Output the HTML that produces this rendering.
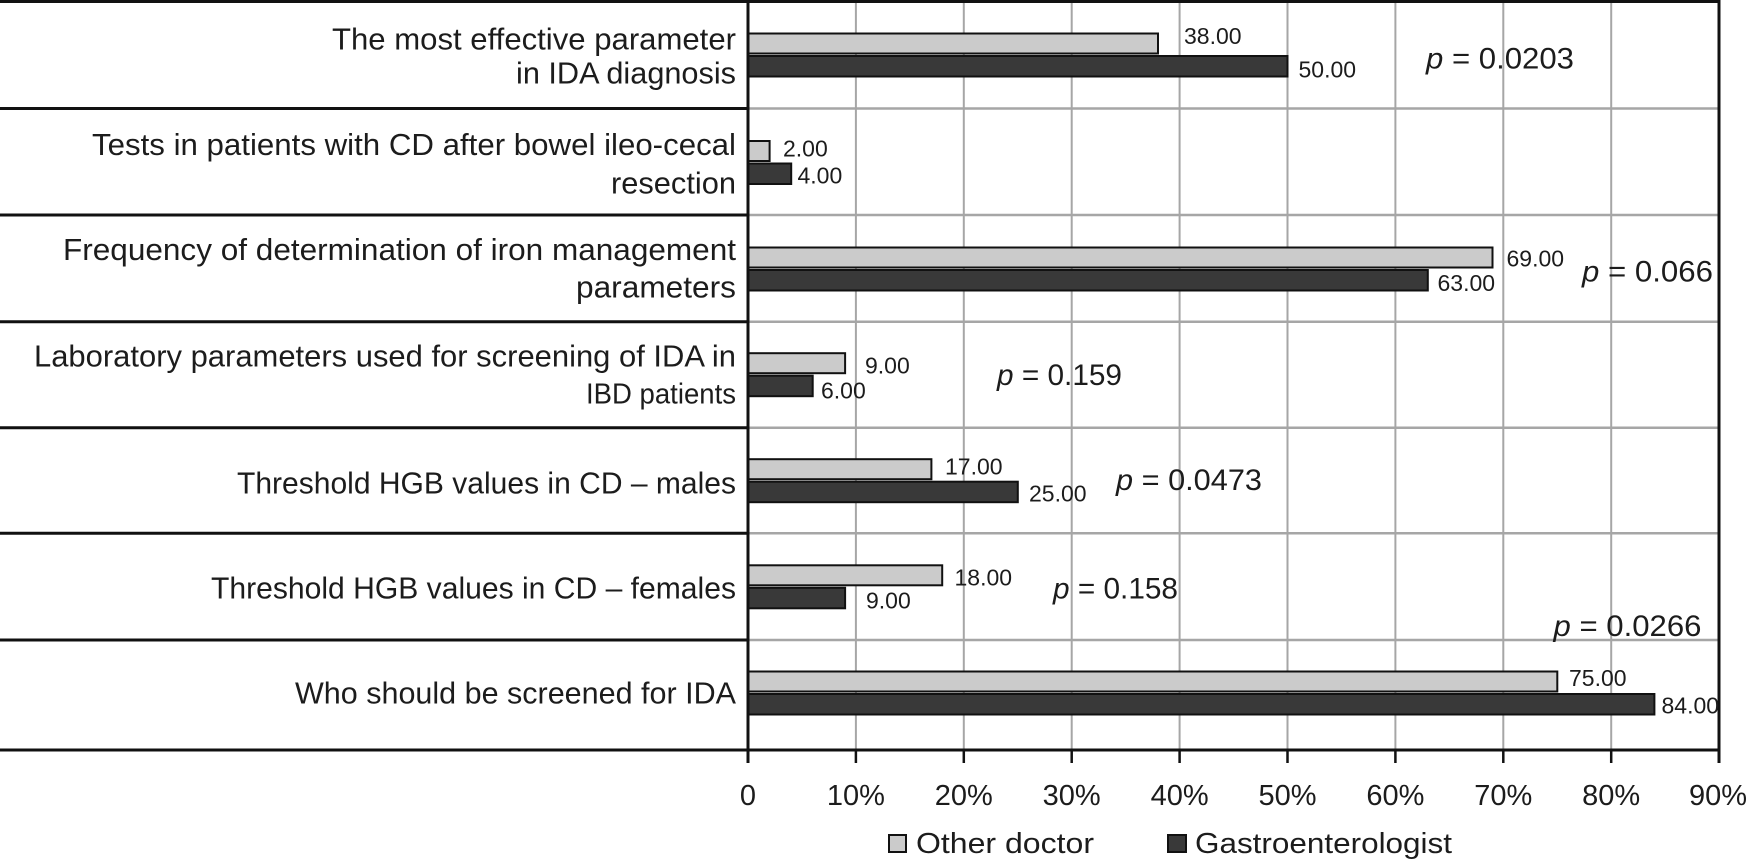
<!DOCTYPE html>
<html>
<head>
<meta charset="utf-8">
<style>
  html, body { margin: 0; padding: 0; background: #ffffff; }
  svg { display: block; }
  text { font-family: "Liberation Sans", "DejaVu Sans", sans-serif; fill: #1c1c1c; }
</style>
</head>
<body>
<svg width="1748" height="863" viewBox="0 0 1748 863" xmlns="http://www.w3.org/2000/svg">
  <rect x="0" y="0" width="1748" height="863" fill="#ffffff"/>

  <!-- vertical gray gridlines -->
  <g stroke="#a6a6a6" stroke-width="2">
    <line x1="855.9" y1="0" x2="855.9" y2="750"/>
    <line x1="963.8" y1="0" x2="963.8" y2="750"/>
    <line x1="1071.7" y1="0" x2="1071.7" y2="750"/>
    <line x1="1179.6" y1="0" x2="1179.6" y2="750"/>
    <line x1="1287.5" y1="0" x2="1287.5" y2="750"/>
    <line x1="1395.4" y1="0" x2="1395.4" y2="750"/>
    <line x1="1503.3" y1="0" x2="1503.3" y2="750"/>
    <line x1="1611.2" y1="0" x2="1611.2" y2="750"/>
  </g>

  <!-- horizontal gray row lines in plot area -->
  <g stroke="#a6a6a6" stroke-width="2.5">
    <line x1="748" y1="108.5" x2="1719" y2="108.5"/>
    <line x1="748" y1="215" x2="1719" y2="215"/>
    <line x1="748" y1="321.7" x2="1719" y2="321.7"/>
    <line x1="748" y1="427.7" x2="1719" y2="427.7"/>
    <line x1="748" y1="533.3" x2="1719" y2="533.3"/>
    <line x1="748" y1="640" x2="1719" y2="640"/>
  </g>

  <!-- black row separators in label area -->
  <g stroke="#111" stroke-width="3">
    <line x1="0" y1="1.5" x2="1719" y2="1.5"/>
    <line x1="0" y1="108.5" x2="748" y2="108.5"/>
    <line x1="0" y1="215" x2="748" y2="215"/>
    <line x1="0" y1="321.7" x2="748" y2="321.7"/>
    <line x1="0" y1="427.7" x2="748" y2="427.7"/>
    <line x1="0" y1="533.3" x2="748" y2="533.3"/>
    <line x1="0" y1="640" x2="748" y2="640"/>
    <line x1="0" y1="750" x2="1719" y2="750"/>
  </g>

  <!-- bars: light = Other doctor, dark = Gastroenterologist -->
  <g stroke="#111" stroke-width="2">
    <rect x="748" y="33.5" width="410" height="20" fill="#cbcbcb"/>
    <rect x="748" y="56" width="539.5" height="20.5" fill="#393939"/>
    <rect x="748" y="141" width="21.6" height="20" fill="#cbcbcb"/>
    <rect x="748" y="163.5" width="43.2" height="20.5" fill="#393939"/>
    <rect x="748" y="247.5" width="744.5" height="20" fill="#cbcbcb"/>
    <rect x="748" y="270" width="679.8" height="20.5" fill="#393939"/>
    <rect x="748" y="353.2" width="97.1" height="20" fill="#cbcbcb"/>
    <rect x="748" y="375.7" width="64.7" height="20.5" fill="#393939"/>
    <rect x="748" y="459.2" width="183.4" height="20" fill="#cbcbcb"/>
    <rect x="748" y="481.7" width="269.8" height="20.5" fill="#393939"/>
    <rect x="748" y="565.3" width="194.2" height="20" fill="#cbcbcb"/>
    <rect x="748" y="587.8" width="97.1" height="20.5" fill="#393939"/>
    <rect x="748" y="671.5" width="809.3" height="20" fill="#cbcbcb"/>
    <rect x="748" y="694" width="906.4" height="20.5" fill="#393939"/>
  </g>

  <!-- axes -->
  <g stroke="#111" stroke-width="3">
    <line x1="748" y1="0" x2="748" y2="763"/>
    <line x1="1719" y1="0" x2="1719" y2="763"/>
  </g>
  <g stroke="#111" stroke-width="2.5">
    <line x1="855.9" y1="750" x2="855.9" y2="763"/>
    <line x1="963.8" y1="750" x2="963.8" y2="763"/>
    <line x1="1071.7" y1="750" x2="1071.7" y2="763"/>
    <line x1="1179.6" y1="750" x2="1179.6" y2="763"/>
    <line x1="1287.5" y1="750" x2="1287.5" y2="763"/>
    <line x1="1395.4" y1="750" x2="1395.4" y2="763"/>
    <line x1="1503.3" y1="750" x2="1503.3" y2="763"/>
    <line x1="1611.2" y1="750" x2="1611.2" y2="763"/>
  </g>

  <!-- category labels -->
  <g font-size="30.5" text-anchor="end">
    <text x="736" y="49.3" textLength="404" lengthAdjust="spacingAndGlyphs">The most effective parameter</text>
    <text x="736" y="83.3" textLength="220" lengthAdjust="spacingAndGlyphs">in IDA diagnosis</text>
    <text x="736" y="155" textLength="644" lengthAdjust="spacingAndGlyphs">Tests in patients with CD after bowel ileo-cecal</text>
    <text x="736" y="193.3" textLength="125" lengthAdjust="spacingAndGlyphs">resection</text>
    <text x="736" y="260" textLength="673" lengthAdjust="spacingAndGlyphs">Frequency of determination of iron management</text>
    <text x="736" y="297.7" textLength="160" lengthAdjust="spacingAndGlyphs">parameters</text>
    <text x="736" y="366.7" textLength="702" lengthAdjust="spacingAndGlyphs">Laboratory parameters used for screening of IDA in</text>
    <text x="736" y="403.3" font-size="29" textLength="150" lengthAdjust="spacingAndGlyphs">IBD patients</text>
    <text x="736" y="493.3" textLength="499" lengthAdjust="spacingAndGlyphs">Threshold HGB values in CD – males</text>
    <text x="736" y="598.3" textLength="525" lengthAdjust="spacingAndGlyphs">Threshold HGB values in CD – females</text>
    <text x="736" y="703.3" textLength="441" lengthAdjust="spacingAndGlyphs">Who should be screened for IDA</text>
  </g>

  <!-- value labels -->
  <g font-size="23">
    <text x="1184" y="44">38.00</text>
    <text x="1298.5" y="77.3">50.00</text>
    <text x="783" y="156.7">2.00</text>
    <text x="797.5" y="183.3">4.00</text>
    <text x="1506.5" y="266.7">69.00</text>
    <text x="1437.5" y="291">63.00</text>
    <text x="865" y="373.3">9.00</text>
    <text x="821" y="398.3">6.00</text>
    <text x="945" y="474.3">17.00</text>
    <text x="1029" y="501.7">25.00</text>
    <text x="954.5" y="585.7">18.00</text>
    <text x="866" y="608.3">9.00</text>
    <text x="1569" y="686">75.00</text>
    <text x="1661.5" y="713.3">84.00</text>
  </g>

  <!-- p-values -->
  <g font-size="29.5">
    <text x="1426" y="68.3" textLength="148" lengthAdjust="spacingAndGlyphs"><tspan font-style="italic">p</tspan> = 0.0203</text>
    <text x="1582" y="281.7" textLength="131" lengthAdjust="spacingAndGlyphs"><tspan font-style="italic">p</tspan> = 0.066</text>
    <text x="997" y="385" textLength="125" lengthAdjust="spacingAndGlyphs"><tspan font-style="italic">p</tspan> = 0.159</text>
    <text x="1116" y="490" textLength="146" lengthAdjust="spacingAndGlyphs"><tspan font-style="italic">p</tspan> = 0.0473</text>
    <text x="1053" y="598.3" textLength="125" lengthAdjust="spacingAndGlyphs"><tspan font-style="italic">p</tspan> = 0.158</text>
    <text x="1553.5" y="636" textLength="148" lengthAdjust="spacingAndGlyphs"><tspan font-style="italic">p</tspan> = 0.0266</text>
  </g>

  <!-- tick labels -->
  <g font-size="29" text-anchor="middle">
    <text x="748" y="805">0</text>
    <text x="855.9" y="805">10%</text>
    <text x="963.8" y="805">20%</text>
    <text x="1071.7" y="805">30%</text>
    <text x="1179.6" y="805">40%</text>
    <text x="1287.5" y="805">50%</text>
    <text x="1395.4" y="805">60%</text>
    <text x="1503.3" y="805">70%</text>
    <text x="1611.2" y="805">80%</text>
    <text x="1718" y="805">90%</text>
  </g>

  <!-- legend -->
  <rect x="889" y="835" width="17" height="17" fill="#cbcbcb" stroke="#111" stroke-width="2"/>
  <text x="916" y="853" font-size="29" textLength="178" lengthAdjust="spacingAndGlyphs">Other doctor</text>
  <rect x="1168" y="835" width="18" height="17" fill="#393939" stroke="#111" stroke-width="2"/>
  <text x="1195" y="853" font-size="29" textLength="257" lengthAdjust="spacingAndGlyphs">Gastroenterologist</text>
</svg>
</body>
</html>
